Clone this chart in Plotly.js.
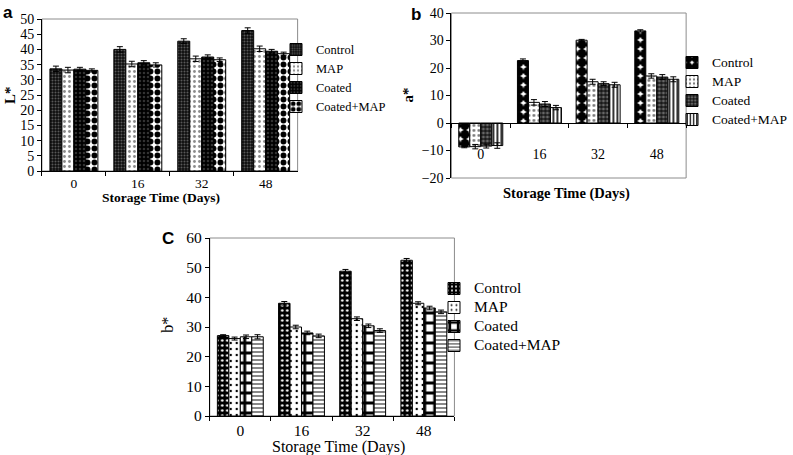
<!DOCTYPE html>
<html>
<head>
<meta charset="utf-8">
<script src="https://cdn.plot.ly/plotly-3.0.1.min.js"></script>
<style>html,body{margin:0;padding:0;background:#fff;}#chart{width:793px;height:455px;}</style>
</head>
<body>
<div id="chart"></div>
<script>
// ---- data ----
var days = ['0', '16', '32', '48'];
var seriesNames = ['Control', 'MAP', 'Coated', 'Coated+MAP'];

// Panel a : L*
var L_control = [33.6, 40.0, 42.7, 46.2];
var L_map     = [33.2, 35.2, 36.9, 40.2];
var L_coated  = [33.5, 35.6, 37.5, 39.4];
var L_cmap    = [33.1, 34.9, 36.6, 38.6];
var L_control_err = [0.9, 0.9, 0.8, 0.9];
var L_map_err     = [0.9, 0.9, 0.9, 0.9];
var L_coated_err  = [0.6, 0.7, 0.7, 0.6];
var L_cmap_err    = [0.5, 0.7, 0.6, 0.5];

// Panel b : a*
var A_control = [-8.7, 22.7, 30.1, 33.5];
var A_map     = [-8.6, 7.5, 15.0, 17.1];
var A_coated  = [-8.4, 6.9, 14.3, 16.7];
var A_cmap    = [-8.2, 5.6, 13.9, 15.9];
var A_control_err = [0.3, 0.6, 0.3, 0.4];
var A_map_err     = [0.8, 1.0, 0.9, 0.8];
var A_coated_err  = [0.7, 0.9, 0.7, 0.9];
var A_cmap_err    = [1.0, 0.8, 0.9, 0.9];

// Panel c : b*
var B_control = [27.1, 38.0, 48.8, 52.5];
var B_map     = [26.1, 30.0, 32.8, 38.0];
var B_coated  = [26.7, 28.0, 30.4, 36.4];
var B_cmap    = [26.7, 27.0, 28.8, 35.1];
var B_control_err = [0.3, 0.6, 0.6, 0.6];
var B_map_err     = [0.5, 0.6, 0.6, 0.5];
var B_coated_err  = [0.6, 0.6, 0.6, 0.6];
var B_cmap_err    = [0.7, 0.6, 0.6, 0.6];

var xAxisTitle = 'Storage Time (Days)';

// ---- styles ----
var SERIF = 'Liberation Serif, Times New Roman, serif';
var SANS = 'Liberation Sans, Arial, sans-serif';
var W = 793, H = 455;
function px(v){ return v / W; }
function py(v){ return 1 - v / H; }

var patternsA = [
  {shape: '.', bgcolor: '#0e0e0e', fgcolor: '#5a5a5a', size: 3, solidity: 0.35, fillmode: 'replace'},
  {shape: '.', bgcolor: '#ffffff', fgcolor: '#8a8a8a', size: 5, solidity: 0.25, fillmode: 'replace'},
  {shape: '.', bgcolor: '#000000', fgcolor: '#333333', size: 4, solidity: 0.3, fillmode: 'replace'},
  {shape: '.', bgcolor: '#ffffff', fgcolor: '#000000', size: 7, solidity: 0.55, fillmode: 'replace'}
];
var patternsB = [
  {shape: '.', bgcolor: '#ffffff', fgcolor: '#000000', size: 9, solidity: 0.8, fillmode: 'replace'},
  {shape: '.', bgcolor: '#ffffff', fgcolor: '#777777', size: 5, solidity: 0.25, fillmode: 'replace'},
  {shape: '+', bgcolor: '#666666', fgcolor: '#000000', size: 4, solidity: 0.45, fillmode: 'replace'},
  {shape: '|', bgcolor: '#ffffff', fgcolor: '#333333', size: 4, solidity: 0.5, fillmode: 'replace'}
];
var patternsC = [
  {shape: '.', bgcolor: '#000000', fgcolor: '#ffffff', size: 5, solidity: 0.2, fillmode: 'replace'},
  {shape: '.', bgcolor: '#ffffff', fgcolor: '#000000', size: 6, solidity: 0.12, fillmode: 'replace'},
  {shape: '+', bgcolor: '#ffffff', fgcolor: '#000000', size: 10, solidity: 0.5, fillmode: 'replace'},
  {shape: '-', bgcolor: '#ffffff', fgcolor: '#555555', size: 4, solidity: 0.35, fillmode: 'replace'}
];

function makeTraces(vals, errs, pats, xa, ya, leg, nameSize) {
  return vals.map(function(v, i) {
    return {
      type: 'bar',
      name: '<span style="font-size:' + nameSize + 'px">' + seriesNames[i] + '</span>',
      x: days,
      y: v,
      xaxis: xa,
      yaxis: ya,
      legend: leg,
      marker: {pattern: pats[i], line: {color: '#000', width: 1}},
      error_y: {type: 'data', array: errs[i], visible: true, color: '#000', thickness: 1, width: 3},
      hoverinfo: 'x+y'
    };
  });
}

var traces = []
  .concat(makeTraces([L_control, L_map, L_coated, L_cmap],
                     [L_control_err, L_map_err, L_coated_err, L_cmap_err], patternsA, 'x', 'y', 'legend', 12.5))
  .concat(makeTraces([A_control, A_map, A_coated, A_cmap],
                     [A_control_err, A_map_err, A_coated_err, A_cmap_err], patternsB, 'x2', 'y2', 'legend2', 13.5))
  .concat(makeTraces([B_control, B_map, B_coated, B_cmap],
                     [B_control_err, B_map_err, B_coated_err, B_cmap_err], patternsC, 'x3', 'y3', 'legend3', 15.5));

var yRangeA = [0, 50], yRangeB = [-20, 40], yRangeC = [0, 60];
var yDomA = [py(171), py(19)];
var yDomB = [py(178), py(13)];
var yDomC = [py(416), py(238)];
var zeroB = yDomB[0] + (0 - yRangeB[0]) / (yRangeB[1] - yRangeB[0]) * (yDomB[1] - yDomB[0]);

function xAx(domain, anchor, fs, extra) {
  var o = {
    domain: domain, anchor: anchor, type: 'category',
    showline: true, linecolor: '#000', linewidth: 1,
    ticks: 'outside', tickson: 'boundaries', ticklen: 4, tickcolor: '#000', tickwidth: 1,
    showgrid: false, zeroline: false, automargin: false, fixedrange: true,
    tickfont: {family: SERIF, size: fs, color: '#000'}
  };
  for (var k in extra) o[k] = extra[k];
  return o;
}
function yAx(domain, anchor, range, dtick, fs) {
  return {
    domain: domain, anchor: anchor, range: range, dtick: dtick, tick0: 0,
    showline: true, linecolor: '#000', linewidth: 1,
    ticks: 'outside', ticklen: 4, tickcolor: '#000', tickwidth: 1,
    showgrid: false, zeroline: false, automargin: false, fixedrange: true,
    tickfont: {family: SERIF, size: fs, color: '#000'}
  };
}

function frame(xr, yr) {
  return {type: 'rect', xref: xr + ' domain', yref: yr + ' domain', x0: 0, x1: 1, y0: 0, y1: 1,
          line: {color: '#8c8c8c', width: 1}, fillcolor: 'rgba(0,0,0,0)', layer: 'below'};
}

function ann(text, x, y, fam, size, angle, extra) {
  var o = {text: text, xref: 'paper', yref: 'paper', x: px(x), y: py(y), xanchor: 'center', yanchor: 'middle',
           showarrow: false, font: {family: fam, size: size, color: '#000'}, textangle: angle || 0};
  for (var k in extra) o[k] = extra[k];
  return o;
}

function legendCfg(x, y) {
  return {x: px(x), y: py(y), xanchor: 'left', yanchor: 'top', bgcolor: 'rgba(0,0,0,0)', borderwidth: 0,
          font: {family: SERIF, size: 11, color: '#000'}, tracegroupgap: 0, itemwidth: 30};
}

var layout = {
  width: W, height: H,
  margin: {l: 0, r: 0, t: 0, b: 0},
  paper_bgcolor: '#fff', plot_bgcolor: '#fff',
  barmode: 'group', bargap: 0.25, bargroupgap: 0,
  showlegend: true,
  xaxis: xAx([px(42), px(298)], 'y', 13.5, {}),
  yaxis: yAx(yDomA, 'x', yRangeA, 5, 14),
  xaxis2: xAx([px(452), px(687)], 'free', 14, {position: zeroB, ticklabelstandoff: 18}),
  yaxis2: yAx(yDomB, 'x2', yRangeB, 10, 14),
  xaxis3: xAx([px(210), px(455)], 'y3', 15.5, {}),
  yaxis3: yAx(yDomC, 'x3', yRangeC, 10, 15.5),
  legend: legendCfg(276, 35),
  legend2: legendCfg(673, 48),
  legend3: legendCfg(434, 274),
  shapes: [frame('x', 'y'), frame('x2', 'y2'), frame('x3', 'y3')],
  annotations: [
    ann('<b>a</b>', 8, 12, SANS, 17),
    ann('<b>L*</b>', 10, 95, SERIF, 15, -90),
    ann('<b>' + xAxisTitle + '</b>', 161, 197, SERIF, 13.5),
    ann('<b>b</b>', 417, 14, SANS, 17),
    ann('<b>a*</b>', 409, 95, SERIF, 15, -90),
    ann('<b>' + xAxisTitle + '</b>', 567, 193, SERIF, 14.5),
    ann('<b>C</b>', 168, 238, SANS, 17),
    ann('b*', 167, 325, SERIF, 16, -90),
    ann(xAxisTitle, 339, 447, SERIF, 16)
  ]
};

Plotly.newPlot('chart', traces, layout, {displayModeBar: false, staticPlot: true});
</script>
</body>
</html>
